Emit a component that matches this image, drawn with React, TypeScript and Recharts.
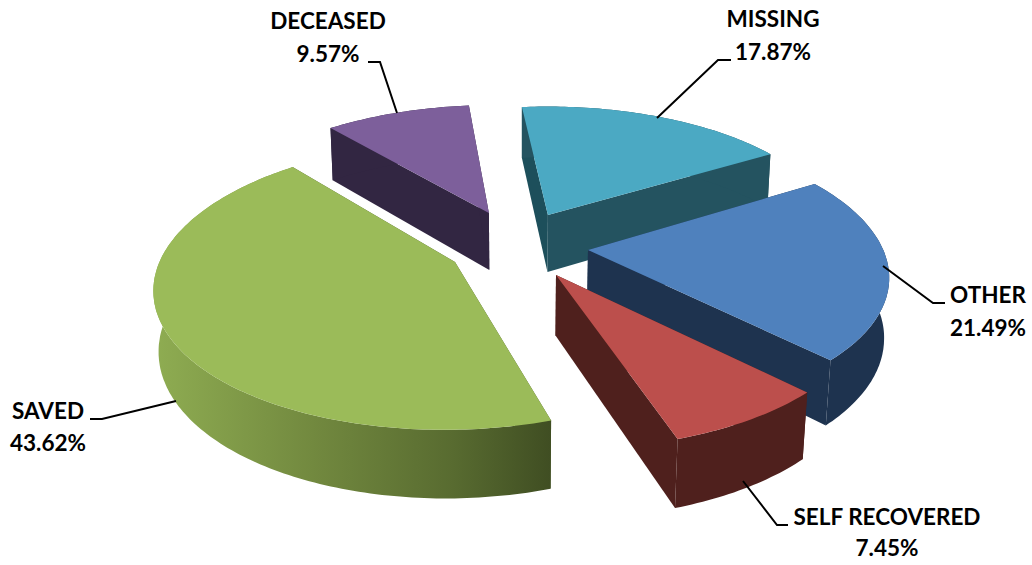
import React from 'react';
import { PieChart, Pie } from 'recharts';

const categories = ['MISSING', 'OTHER', 'SELF RECOVERED', 'SAVED', 'DECEASED'];
const shares = [17.87, 21.49, 7.45, 43.62, 9.57];

const topColors = ['#4BA9C3', '#4F81BD', '#BC4F4C', '#9BBB59', '#7D5F9B'];
const wallColors = ['#245360', '#1E334F', '#4F201D', 'url(#savedWall)', '#322642'];
// exploded offset of each slice on the pie's own plane, in radii
const explode: [number, number][] = [
  [0.092, -0.194],
  [0.225, 0.074],
  [0.1125, 0.2525],
  [-0.225, 0.161],
  [-0.118, -0.21],
];
// the rim sits a touch right of the apex in the source picture
const rimShift = [0.012, 0.006, 0.02, 0.007, 0.004];
// leader lines and label anchors (x centre, first and second baseline)
const leaders = [
  { pts: '657,118 718,60 731,60', x: 773, y1: 27, y2: 60 },
  { pts: '883,266 933,303 945,303', x: 988, y1: 303, y2: 336 },
  { pts: '743,481 777,525 788,525', x: 887, y1: 525, y2: 556 },
  { pts: '176,401 102,419 90,419', x: 48, y1: 419, y2: 451 },
  { pts: '397,113 380,62 368,62', x: 328, y1: 29, y2: 62 },
];

const tableData = categories.map((name, i) => ({ name, value: shares[i] }));

const VERT = 0.459; // sin of the view elevation
const PERSP = 0.16; // perspective strength
const DEPTH = 0.225; // pie thickness in radii
const ZFALL = 0.06;
const ZSCREEN = 0.91;

const Wedge = (props: any) => {
  const { cx, cy, outerRadius: R, startAngle, endAngle, payload, name } = props;
  const i = categories.indexOf(payload?.name ?? name);
  const [ox, oy] = explode[i];

  const project = (u: number, v: number, z: number) => {
    const w = 1 - PERSP * v + ZFALL * z;
    return [cx + (R * u) / w, cy + (R * (VERT * v + ZSCREEN * z)) / w];
  };
  const rim = (deg: number, z: number) => {
    // recharts angles: 0 is east, counter-clockwise
    const a = (deg * Math.PI) / 180;
    return project(ox + rimShift[i] + Math.cos(a), oy - Math.sin(a), z);
  };
  const toPath = (pts: number[][]) =>
    'M' + pts.map((p) => `${p[0].toFixed(1)},${p[1].toFixed(1)}`).join('L') + 'Z';

  const steps = Math.max(8, Math.round(Math.abs(endAngle - startAngle)));
  const arcTop: number[][] = [];
  const arcBottom: number[][] = [];
  for (let s = 0; s <= steps; s++) {
    const d = startAngle + ((endAngle - startAngle) * s) / steps;
    arcTop.push(rim(d, 0));
    arcBottom.push(rim(d, DEPTH));
  }
  const apexTop = project(ox, oy, 0);
  const apexBottom = project(ox, oy, DEPTH);
  const wall = wallColors[i];
  const flat = i === 3 ? '#4A5A2A' : wall;

  return (
    <g>
      <path d={toPath([apexTop, arcTop[0], arcBottom[0], apexBottom])} fill={i === 0 ? '#1D4F5B' : flat} />
      <path d={toPath([apexTop, arcTop[steps], arcBottom[steps], apexBottom])} fill={flat} />
      <path d={toPath([...arcTop, ...arcBottom.slice().reverse()])} fill={wall} />
      <path d={toPath([apexTop, ...arcTop])} fill={topColors[i]} />
    </g>
  );
};

const renderLabel = (props: any) => {
  const i = props.index;
  const l = leaders[i];
  return (
    <g key={categories[i]}>
      <polyline points={l.pts} fill="none" stroke="#000" strokeWidth={2} />
      <text x={l.x} y={l.y1} textAnchor="middle" fontFamily="Lato" fontWeight={700} fontSize={22.5} fill="#000">
        {categories[i]}
      </text>
      <text x={l.x} y={l.y2} textAnchor="middle" fontFamily="Lato" fontWeight={700} fontSize={22.5} fill="#000">
        {shares[i].toFixed(2) + '%'}
      </text>
    </g>
  );
};

export default function App() {
  return (
    <div style={{ position: 'absolute', left: 0, top: 0, width: 1032, height: 565, background: '#fff' }}>
      <PieChart width={1032} height={565} margin={{ top: 0, right: 0, bottom: 0, left: 0 }}>
        <defs>
          <linearGradient id="savedWall" gradientUnits="userSpaceOnUse" x1="152" y1="0" x2="554" y2="0">
            <stop offset="0%" stopColor="#8FAD52" />
            <stop offset="40%" stopColor="#72893F" />
            <stop offset="75%" stopColor="#586B30" />
            <stop offset="100%" stopColor="#3F4D22" />
          </linearGradient>
        </defs>
        <Pie
          data={tableData}
          dataKey="value"
          nameKey="name"
          cx={522}
          cy={240}
          innerRadius={0}
          outerRadius={290}
          startAngle={96}
          endAngle={-264}
          stroke="none"
          isAnimationActive={false}
          shape={Wedge}
          inactiveShape={Wedge}
          label={renderLabel}
          labelLine={false}
        />
      </PieChart>
    </div>
  );
}
